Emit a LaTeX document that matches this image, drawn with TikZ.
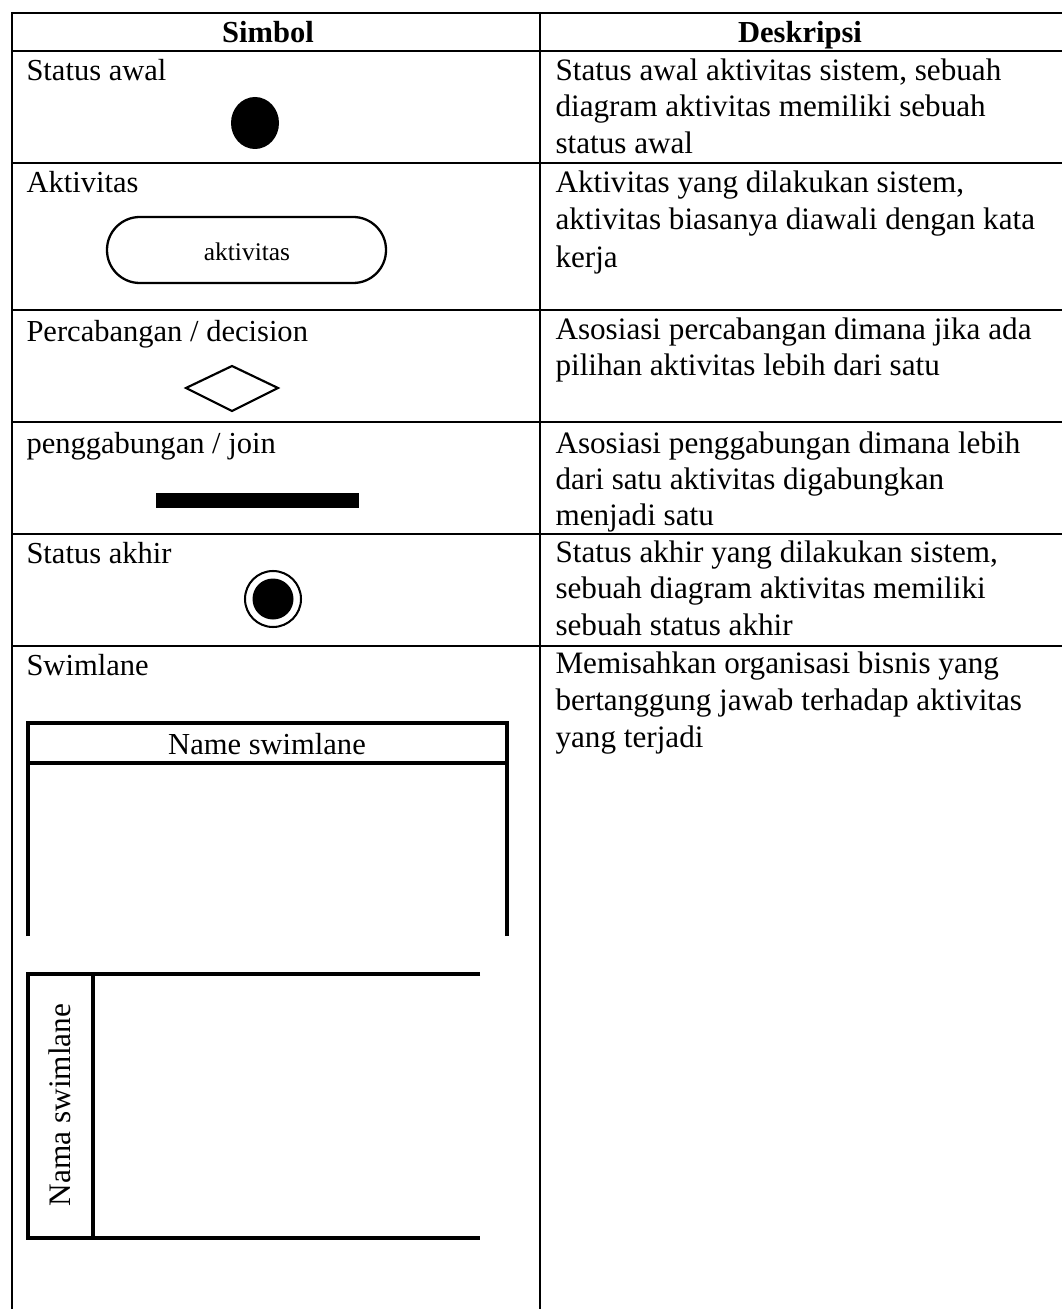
\documentclass[tikz,border=0pt]{standalone}
\usepackage{fontspec}
\setmainfont{Liberation Serif}
\usetikzlibrary{shapes.geometric}
\begin{document}
\begin{tikzpicture}[x=0.393pt,y=-0.393pt,
  rule/.style={line width=1.05pt},
  lane/.style={line width=1.35pt},
  txt/.style={inner sep=0pt,anchor=base west,font=\fontsize{12}{14.4}\selectfont},
  desc/.style={inner sep=0pt,anchor=base west,font=\fontsize{12.25}{14.4}\selectfont},
  head/.style={inner sep=0pt,anchor=base,font=\fontsize{12}{14.4}\selectfont\bfseries},
  small/.style={inner sep=0pt,anchor=base,font=\fontsize{10}{12}\selectfont}]
\useasboundingbox (0,0) rectangle (1062,1309);
\clip (0,0) rectangle (1062,1309);

% table rules
\draw[rule] (12,13) -- (1070,13);
\draw[rule] (12,51) -- (1070,51);
\draw[rule] (12,163) -- (1070,163);
\draw[rule] (12,310) -- (1070,310);
\draw[rule] (12,422) -- (1070,422);
\draw[rule] (12,534) -- (1070,534);
\draw[rule] (12,646) -- (1070,646);
\draw[rule] (12,12) -- (12,1320);
\draw[rule] (540,12) -- (540,1320);

% header
\node[head] (hsym) at (268,43) {Simbol};
\node[head] (hdesc) at (800,43) {Deskripsi};

% symbol names
\node[txt] (n1) at (26,81) {Status awal};
\node[txt] (n2) at (26,193) {Aktivitas};
\node[txt] (n3) at (26,341) {Percabangan / decision};
\node[txt] (n4) at (26,453) {penggabungan / join};
\node[txt] (n5) at (26,563) {Status akhir};
\node[txt] (n6) at (26,675) {Swimlane};

% descriptions
\node[desc] (d1a) at (555,81) {Status awal aktivitas sistem, sebuah};
\node[desc] (d1b) at (555,117) {diagram aktivitas memiliki sebuah};
\node[desc] (d1c) at (555,154) {status awal};
\node[desc] (d2a) at (555,193) {Aktivitas yang dilakukan sistem,};
\node[desc] (d2b) at (555,230) {aktivitas biasanya diawali dengan kata};
\node[desc] (d2c) at (555,267) {kerja};
\node[desc] (d3a) at (555,339) {Asosiasi percabangan dimana jika ada};
\node[desc] (d3b) at (555,375) {pilihan aktivitas lebih dari satu};
\node[desc] (d4a) at (555,453) {Asosiasi penggabungan dimana lebih};
\node[desc] (d4b) at (555,489) {dari satu aktivitas digabungkan};
\node[desc] (d4c) at (555,525) {menjadi satu};
\node[desc] (d5a) at (555,562) {Status akhir yang dilakukan sistem,};
\node[desc] (d5b) at (555,598) {sebuah diagram aktivitas memiliki};
\node[desc] (d5c) at (555,635) {sebuah status akhir};
\node[desc] (d6a) at (555,673) {Memisahkan organisasi bisnis yang};
\node[desc] (d6b) at (555,710) {bertanggung jawab terhadap aktivitas};
\node[desc] (d6c) at (555,747) {yang terjadi};

% initial state
\fill (255,123) ellipse [x radius=24, y radius=26];

% activity
\draw[line width=0.9pt,rounded corners=12.9pt] (107,217) rectangle (386,283);
\node[small] (act) at (247,261) {aktivitas};

% decision
\draw[line width=0.85pt] (186,388) -- (232,366) -- (278,388) -- (232,411) -- cycle;

% join bar
\fill (156,493) rectangle (359,508);

% final state
\draw[line width=0.8pt] (273,599) circle [radius=28];
\fill (273,599) circle [radius=20.5];

% horizontal swimlane
\draw[lane] (28,936) -- (28,721);
\draw[lane] (507,936) -- (507,721);
\draw[lane] (27,723) -- (509,723);
\draw[lane] (28,763) -- (507,763);
\node[inner sep=0pt,anchor=base,font=\fontsize{12}{14.4}\selectfont] (lname) at (267,754) {Name swimlane};

% vertical swimlane
\draw[lane] (480,974) -- (28,974) -- (28,1238) -- (480,1238);
\draw[lane] (93,974) -- (93,1238);
\node[inner sep=0pt,anchor=base,rotate=90,font=\fontsize{12.3}{14.4}\selectfont] (vname) at (70,1105) {Nama swimlane};
\end{tikzpicture}
\end{document}
